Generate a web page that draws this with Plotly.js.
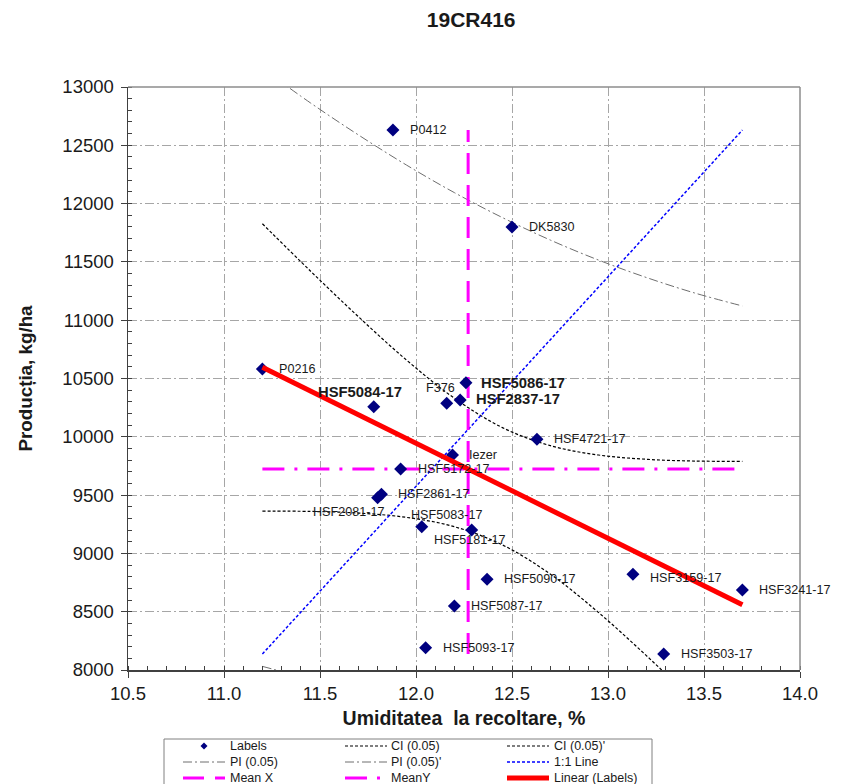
<!DOCTYPE html>
<html>
<head>
<meta charset="utf-8">
<script src="https://cdn.plot.ly/plotly-3.0.1.min.js"></script>
<style>
  html, body { margin: 0; padding: 0; background: #ffffff; }
  #chart { width: 842px; height: 784px; }
</style>
</head>
<body>
<div id="chart"></div>
<script>
// Hybrid names, harvest moisture (%) and yield (kg/ha)
const hybrids = ['P0412', 'DK5830', 'P0216', 'HSF5084-17', 'HSF5086-17', 'F376', 'HSF2837-17',
  'HSF4721-17', 'Iezer', 'HSF5172-17', 'HSF2861-17', 'HSF2081-17', 'HSF5083-17', 'HSF5181-17',
  'HSF5090-17', 'HSF3159-17', 'HSF3241-17', 'HSF5087-17', 'HSF5093-17', 'HSF3503-17'];
const moisture = [11.88, 12.50, 11.20, 11.78, 12.26, 12.16, 12.23,
  12.63, 12.19, 11.92, 11.82, 11.80, 12.03, 12.29,
  12.37, 13.13, 13.70, 12.20, 12.05, 13.29];
const yieldKg = [12631, 11800, 10581, 10258, 10464, 10287, 10316,
  9979, 9844, 9724, 9507, 9478, 9229, 9201,
  8778, 8821, 8686, 8549, 8191, 8137];
const highlighted = ['HSF5084-17', 'HSF5086-17', 'HSF2837-17'];

// Confidence (CI) and prediction (PI) band values at the sampled moisture levels
const bandX = [11.20, 11.45, 11.70, 11.95, 12.20, 12.45, 12.70, 12.95, 13.20, 13.45, 13.70];
const ciUpper = [11827, 11422, 11030, 10659, 10331, 10079, 9924, 9844, 9807, 9792, 9790];
const ciLower = [9363, 9360, 9346, 9309, 9229, 9073, 8822, 8494, 8123, 7730, 7326];
const piUpper = [13159, 12864, 12589, 12331, 12094, 11880, 11687, 11516, 11366, 11234, 11122];
const piLower = [8031, 7918, 7787, 7637, 7466, 7272, 7059, 6822, 6564, 6288, 5994];

// Axis ticks
const xTicks = [10.5, 11.0, 11.5, 12.0, 12.5, 13.0, 13.5, 14.0];
const yTicks = [8000, 8500, 9000, 9500, 10000, 10500, 11000, 11500, 12000, 12500, 13000];

// ---- styles ----
const FONT = 'Liberation Sans, Arial, sans-serif';
const TXT = '#1a1a1a';
const ST = {
  ci:    { color: '#000000', width: 1.2, dash: '3px,2px' },
  pi:    { color: '#6e6e6e', width: 1, dash: '9px,3px,2px,3px' },
  one:   { color: '#0000ff', width: 1.5, dash: '3px,2px' },
  meanX: { color: '#ff00ff', width: 3, dash: '21px,11px' },
  meanY: { color: '#ff00ff', width: 3, dash: '22px,10px,3px,10px' },
  lin:   { color: '#ff0000', width: 5 }
};
const MARKER_COLOR = '#000080';

// label placement: left edge of text relative to point centre (px), dy positive = down
const labelOffset = {
  'HSF2081-17': [-66, 14],
  'HSF5083-17': [-12, -12],
  'HSF5181-17': [-39, 10],
  'F376': [-22, -15],
  'HSF5086-17': [14, 0],
  'HSF2837-17': [15, -1],
  'HSF5084-17': [-57, -15],
  'HSF3159-17': [16, 4]
};

// ---- derived lines ----
const n = moisture.length;
const mean = a => a.reduce((s, v) => s + v, 0) / a.length;
const mx = mean(moisture), my = mean(yieldKg);
let sxy = 0, sxx = 0;
for (let i = 0; i < n; i++) { sxy += (moisture[i] - mx) * (yieldKg[i] - my); sxx += (moisture[i] - mx) ** 2; }
const slope = sxy / sxx, icpt = my - slope * mx;
const xMin = Math.min(...moisture), xMax = Math.max(...moisture);
const yMin = Math.min(...yieldKg), yMax = Math.max(...yieldKg);

const traces = [
  { x: bandX, y: ciUpper, mode: 'lines', name: 'CI (0.05)', line: Object.assign({ shape: 'spline' }, ST.ci) },
  { x: bandX, y: ciLower, mode: 'lines', name: "CI (0.05)'", line: Object.assign({ shape: 'spline' }, ST.ci) },
  { x: bandX, y: piUpper, mode: 'lines', name: 'PI (0.05)', line: Object.assign({ shape: 'spline' }, ST.pi) },
  { x: bandX, y: piLower, mode: 'lines', name: "PI (0.05)'", line: Object.assign({ shape: 'spline' }, ST.pi) },
  { x: [xMin, xMax], y: [yMin, yMax], mode: 'lines', name: '1:1 Line', line: ST.one },
  { x: [mx, mx], y: [yMin, yMax], mode: 'lines', name: 'Mean X', line: ST.meanX },
  { x: [xMin, xMax], y: [my, my], mode: 'lines', name: 'MeanY', line: ST.meanY },
  { x: moisture, y: yieldKg, text: hybrids, mode: 'markers', name: 'Labels',
    marker: { symbol: 'diamond', size: 10, color: MARKER_COLOR } },
  { x: [xMin, xMax], y: [icpt + slope * xMin, icpt + slope * xMax], mode: 'lines',
    name: 'Linear (Labels)', line: ST.lin }
].map(t => Object.assign({ showlegend: false, hoverinfo: 'skip' }, t));

// ---- layout geometry ----
const W = 842, H = 784;
const M = { l: 128, r: 42, t: 87, b: 114 };
const PW = W - M.l - M.r, PH = H - M.t - M.b;
const px2x = p => (p - M.l) / PW;
const py2y = p => (M.t + PH - p) / PH;

// data labels
const annotations = hybrids.map((name, i) => {
  const off = labelOffset[name] || [16, 0];
  const bold = highlighted.includes(name);
  return {
    x: moisture[i], y: yieldKg[i], xref: 'x', yref: 'y',
    text: bold ? '<b>' + name + '</b>' : name,
    showarrow: false, xanchor: 'left', yanchor: 'middle',
    xshift: off[0] - 1, yshift: -off[1],
    font: { family: FONT, size: bold ? 14.8 : 12.6, color: TXT }
  };
});

// legend key, three columns by three rows
const legendItems = [
  { name: 'Labels', marker: true }, { name: 'CI (0.05)', line: ST.ci }, { name: "CI (0.05)'", line: ST.ci },
  { name: 'PI (0.05)', line: ST.pi }, { name: "PI (0.05)'", line: ST.pi }, { name: '1:1 Line', line: ST.one },
  { name: 'Mean X', line: ST.meanX }, { name: 'MeanY', line: ST.meanY }, { name: 'Linear (Labels)', line: ST.lin }
];
const colSym = [183, 345, 507], colText = [228, 389, 552], rowY = [746, 762, 778];
const shapes = [
  { type: 'rect', xref: 'paper', yref: 'paper', x0: px2x(164), x1: px2x(652), y0: py2y(739), y1: py2y(800),
    line: { color: '#808080', width: 1 }, fillcolor: 'rgba(0,0,0,0)' },
  // top and right frame of the plot area
  { type: 'line', xref: 'paper', yref: 'paper', x0: 0, x1: 1, y0: 1, y1: 1, line: { color: '#8c8c8c', width: 1.5 } },
  { type: 'line', xref: 'paper', yref: 'paper', x0: 1, x1: 1, y0: 0, y1: 1, line: { color: '#8c8c8c', width: 1.5 } }
];
legendItems.forEach((it, k) => {
  const c = k % 3, r = Math.floor(k / 3);
  const y = py2y(rowY[r]);
  if (it.marker) {
    shapes.push({ type: 'path', xref: 'paper', yref: 'paper', xsizemode: 'pixel', ysizemode: 'pixel',
      xanchor: px2x(colSym[c] + 21), yanchor: y, path: 'M -3.5 0 L 0 3.5 L 3.5 0 L 0 -3.5 Z',
      fillcolor: MARKER_COLOR, line: { width: 0 } });
  } else {
    shapes.push({ type: 'line', xref: 'paper', yref: 'paper', x0: px2x(colSym[c]), x1: px2x(colSym[c] + 42),
      y0: y, y1: y, line: it.line });
  }
  annotations.push({ xref: 'paper', yref: 'paper', x: px2x(colText[c]), y: y, xanchor: 'left', yanchor: 'middle',
    text: it.name, showarrow: false, font: { family: FONT, size: 12.5, color: TXT } });
});

const gridStyle = { showgrid: true, gridcolor: '#a6a6a6', gridwidth: 1, griddash: '9px,3px,2px,3px' };

const layout = {
  width: W, height: H, margin: M,
  paper_bgcolor: '#ffffff', plot_bgcolor: '#ffffff',
  font: { family: FONT, color: TXT },
  title: { text: '<b>19CR416</b>', font: { family: FONT, size: 21, color: TXT },
    x: 430 / W, xanchor: 'center', xref: 'paper', y: 1 - 20 / H, yanchor: 'middle', yref: 'container' },
  xaxis: Object.assign({
    range: [10.5, 14.0], tickmode: 'array', tickvals: xTicks, ticktext: xTicks.map(v => v.toFixed(1)),
    ticks: 'outside', ticklen: 6, tickcolor: '#404040', showline: true, linecolor: '#404040', linewidth: 1.5,
    zeroline: false, tickfont: { family: FONT, size: 18.5, color: TXT },
    minor: { dtick: 0.1, ticks: 'inside', ticklen: 4, tickcolor: '#404040', showgrid: false },
    title: { text: '<b>Umiditatea  la recoltare, %</b>', font: { family: FONT, size: 19.5, color: TXT }, standoff: 8 }
  }, gridStyle),
  yaxis: Object.assign({
    range: [8000, 13000], tickmode: 'array', tickvals: yTicks, ticktext: yTicks.map(String),
    ticks: 'outside', ticklen: 6, tickcolor: '#404040', showline: true, linecolor: '#404040', linewidth: 1.5,
    zeroline: false, tickfont: { family: FONT, size: 18.5, color: TXT }, ticklabelstandoff: 3,
    minor: { dtick: 100, ticks: 'inside', ticklen: 4, tickcolor: '#404040', showgrid: false },
    title: { text: '<b>Producția, kg/ha</b>', font: { family: FONT, size: 18.8, color: TXT }, standoff: 25 }
  }, gridStyle),
  shapes: shapes,
  annotations: annotations,
  showlegend: false
};

Plotly.newPlot('chart', traces, layout, { displayModeBar: false, staticPlot: true });
</script>
</body>
</html>
